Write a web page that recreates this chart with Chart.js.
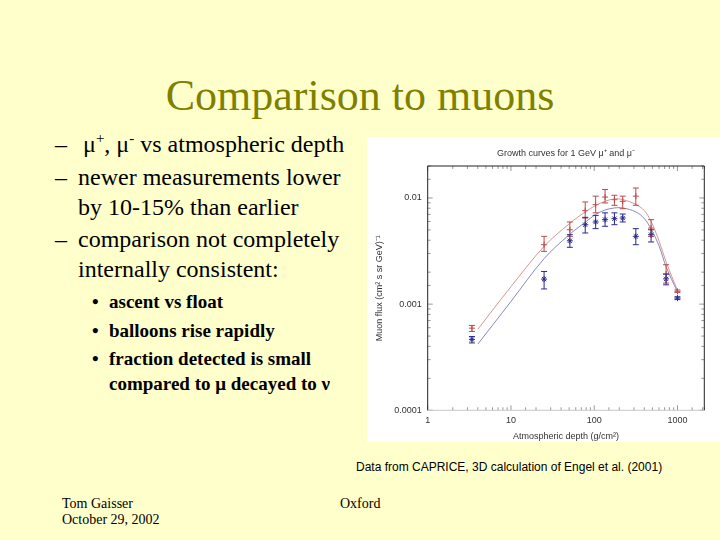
<!DOCTYPE html>
<html>
<head>
<meta charset="utf-8">
<script src="https://cdn.jsdelivr.net/npm/chart.js@4.4.0/dist/chart.umd.min.js"></script>
<style>
  body { margin: 0; background: #ffffcc; }
  #slide { position: relative; width: 720px; height: 540px; overflow: hidden; background: #ffffcc; color: #000; }
  .t { position: absolute; white-space: nowrap; font-family: "Liberation Serif", "Times New Roman", Times, serif; }
  .main { font-size: 24px; line-height: 24px; }
  .sub { font-size: 19px; line-height: 19px; font-weight: bold; }
  .foot { font-size: 14px; line-height: 14px; }
  sup { font-size: 15px; line-height: 0; }
  #chartBox { position: absolute; left: 367px; top: 137px; width: 353px; height: 305px; background: #fff; }
</style>
</head>
<body>
<div id="slide">
  <div class="t" style="left:0;width:720px;text-align:center;top:74px;font-size:44px;line-height:44px;color:#808000;">Comparison to muons</div>

  <div class="t main" style="left:55px;top:132px;">–</div>
  <div class="t main" style="left:83px;top:132px;">μ<sup>+</sup>, μ<sup>-</sup> vs atmospheric depth</div>
  <div class="t main" style="left:55px;top:165px;">–</div>
  <div class="t main" style="left:78px;top:165px;">newer measurements lower</div>
  <div class="t main" style="left:78px;top:195px;">by 10-15% than earlier</div>
  <div class="t main" style="left:55px;top:227px;">–</div>
  <div class="t main" style="left:78px;top:227px;">comparison not completely</div>
  <div class="t main" style="left:78px;top:257px;">internally consistent:</div>

  <div class="t sub" style="left:92px;top:292px;">•</div>
  <div class="t sub" style="left:109px;top:292px;">ascent vs float</div>
  <div class="t sub" style="left:92px;top:321px;">•</div>
  <div class="t sub" style="left:109px;top:321px;">balloons rise rapidly</div>
  <div class="t sub" style="left:92px;top:349px;">•</div>
  <div class="t sub" style="left:109px;top:349px;">fraction detected is small</div>
  <div class="t sub" style="left:109px;top:374px;">compared to μ decayed to ν</div>

  <div id="chartBox"><canvas id="chart"></canvas></div>

  <div class="t" style="left:356px;top:461px;font-family:'Liberation Sans',Arial,sans-serif;font-size:12px;line-height:12px;">Data from CAPRICE, 3D calculation of Engel et al. (2001)</div>

  <div class="t foot" style="left:62px;top:497px;">Tom Gaisser</div>
  <div class="t foot" style="left:62px;top:513px;">October 29, 2002</div>
  <div class="t foot" style="left:340px;top:497px;">Oxford</div>
</div>

<script>
// measured points (CAPRICE), depth in g/cm2
const depthData = [3.4, 25, 51, 78, 104, 135, 175, 220, 316, 482, 730, 1000];
const muPlus = [5.94e-4, 3.63e-3, 5.02e-3, 7.6e-3, 8.65e-3, 1.02e-2, 9.64e-3, 9.3e-3, 1.04e-2, 5.21e-3, 1.92e-3, 1.32e-3];
const muPlusHigh = [6.3e-4, 4.35e-3, 5.94e-3, 9.17e-3, 1.04e-2, 1.2e-2, 1.06e-2, 1.04e-2, 1.24e-2, 6.25e-3, 2.35e-3, 1.36e-3];
const muPlusLow = [5.52e-4, 3.14e-3, 4.35e-3, 6.47e-3, 7.24e-3, 8.97e-3, 8.53e-3, 7.92e-3, 8.53e-3, 4.35e-3, 1.58e-3, 1.29e-3];
const muMinus = [4.65e-4, 1.72e-3, 3.95e-3, 5.6e-3, 5.94e-3, 6.25e-3, 6.38e-3, 6.47e-3, 4.35e-3, 4.51e-3, 1.73e-3, 1.14e-3];
const muMinusHigh = [4.95e-4, 2.03e-3, 4.51e-3, 6.57e-3, 6.85e-3, 7.24e-3, 7.24e-3, 7.06e-3, 5.14e-3, 5.02e-3, 1.92e-3, 1.17e-3];
const muMinusLow = [4.31e-4, 1.39e-3, 3.43e-3, 4.68e-3, 5.14e-3, 5.41e-3, 5.6e-3, 5.94e-3, 3.63e-3, 3.85e-3, 1.52e-3, 1.11e-3];

// calculated growth curves
const curveDepth = [4, 10, 25, 50, 78, 104, 135, 175, 220, 316, 400, 482, 600, 730, 1000];
const curveMuPlus = [5.8e-4, 1.46e-3, 3.5e-3, 5.7e-3, 7.4e-3, 8.5e-3, 9.3e-3, 9.8e-3, 9.65e-3, 8.7e-3, 7.6e-3, 6.0e-3, 3.95e-3, 2.5e-3, 1.34e-3];
const curveMuMinus = [4.2e-4, 1.06e-3, 2.68e-3, 4.5e-3, 5.9e-3, 7.0e-3, 7.7e-3, 8.05e-3, 8.05e-3, 7.4e-3, 6.4e-3, 5.1e-3, 3.55e-3, 2.25e-3, 1.3e-3];

const xTickLabels = ['1', '10', '100', '1000'];
const yTickLabels = ['0.0001', '0.001', '0.01'];

const RED = '#c04848';
const BLUE = '#2a2a8c';

function pts(xs, ys) {
  return xs.map((x, i) => ({ x: x, y: ys[i] }));
}
function isDecade(v) {
  const l = Math.log10(v);
  return Math.abs(l - Math.round(l)) < 1e-6;
}

// error bars drawn through the scales
const errorBars = {
  id: 'errorBars',
  afterDatasetsDraw(chart) {
    const ctx = chart.ctx;
    const ys = chart.scales.y;
    chart.data.datasets.forEach((ds, di) => {
      if (!ds.errLow) return;
      const meta = chart.getDatasetMeta(di);
      ctx.save();
      ctx.strokeStyle = ds.borderColor;
      ctx.lineWidth = 1;
      meta.data.forEach((p, i) => {
        const y1 = ys.getPixelForValue(ds.errLow[i]);
        const y2 = ys.getPixelForValue(ds.errHigh[i]);
        ctx.beginPath();
        ctx.moveTo(p.x, y1); ctx.lineTo(p.x, y2);
        ctx.moveTo(p.x - 3, y1); ctx.lineTo(p.x + 3, y1);
        ctx.moveTo(p.x - 3, y2); ctx.lineTo(p.x + 3, y2);
        ctx.stroke();
      });
      ctx.restore();
    });
  }
};

// gnuplot style frame with inward ticks on all four sides
const frame = {
  id: 'frame',
  beforeDatasetsDraw(chart) {
    const { ctx, chartArea: a, scales } = chart;
    ctx.save();
    ctx.lineWidth = 1;
    ctx.strokeStyle = '#999';
    scales.x.ticks.forEach(t => {
      const px = scales.x.getPixelForValue(t.value);
      if (px < a.left - 0.5 || px > a.right + 0.5) return;
      const len = isDecade(t.value) ? 5 : 3;
      ctx.beginPath();
      ctx.moveTo(px, a.bottom); ctx.lineTo(px, a.bottom - len);
      ctx.moveTo(px, a.top); ctx.lineTo(px, a.top + len);
      ctx.stroke();
    });
    scales.y.ticks.forEach(t => {
      const py = scales.y.getPixelForValue(t.value);
      if (py < a.top - 0.5 || py > a.bottom + 0.5) return;
      const len = isDecade(t.value) ? 5 : 3;
      ctx.beginPath();
      ctx.moveTo(a.left, py); ctx.lineTo(a.left + len, py);
      ctx.moveTo(a.right, py); ctx.lineTo(a.right - len, py);
      ctx.stroke();
    });
    ctx.strokeStyle = '#222';
    ctx.beginPath();
    ctx.moveTo(a.left, a.bottom); ctx.lineTo(a.left, a.top);
    ctx.lineTo(a.right, a.top); ctx.lineTo(a.right, a.bottom);
    ctx.stroke();
    ctx.strokeStyle = '#c8c8c8';
    ctx.beginPath();
    ctx.moveTo(a.left, a.bottom); ctx.lineTo(a.right, a.bottom);
    ctx.stroke();
    ctx.restore();
  }
};

const font = { family: '"Liberation Sans", Arial, sans-serif', size: 9, weight: 'normal' };

new Chart(document.getElementById('chart'), {
  type: 'scatter',
  data: {
    datasets: [
      { label: 'calc mu+', data: pts(curveDepth, curveMuPlus), showLine: true, pointRadius: 0,
        borderColor: '#cc7a7a', borderWidth: 0.8, tension: 0.35 },
      { label: 'calc mu-', data: pts(curveDepth, curveMuMinus), showLine: true, pointRadius: 0,
        borderColor: '#6a6aae', borderWidth: 0.8, tension: 0.35 },
      { label: 'mu+', data: pts(depthData, muPlus), pointStyle: 'cross', pointRadius: 3,
        borderColor: RED, backgroundColor: RED, borderWidth: 1,
        errLow: muPlusLow, errHigh: muPlusHigh },
      { label: 'mu-', data: pts(depthData, muMinus), pointStyle: 'star', pointRadius: 3,
        borderColor: BLUE, backgroundColor: BLUE, borderWidth: 1,
        errLow: muMinusLow, errHigh: muMinusHigh }
    ]
  },
  options: {
    responsive: true,
    maintainAspectRatio: false,
    animation: false,
    layout: { padding: { top: 0, right: 15.7, bottom: 0, left: 0 } },
    plugins: {
      legend: { display: false },
      tooltip: { enabled: false },
      title: {
        display: true,
        text: 'Growth curves for 1 GeV μ⁺ and μ⁻',
        fullSize: false,
        color: '#333',
        font: font,
        padding: { top: 11, bottom: 7.2 }
      }
    },
    scales: {
      x: {
        type: 'logarithmic',
        min: 1,
        max: 2100,
        grid: { display: false, drawTicks: false },
        border: { display: false },
        ticks: {
          autoSkip: false,
          maxRotation: 0,
          padding: 5,
          color: '#333',
          font: font,
          callback: v => (isDecade(v) && xTickLabels.includes(String(Math.round(v)))) ? String(Math.round(v)) : ''
        },
        title: { display: true, text: 'Atmospheric depth (g/cm²)', color: '#333', font: font, padding: { top: 0, bottom: 0 } },
        afterFit: s => { s.height = 31.7; }
      },
      y: {
        type: 'logarithmic',
        min: 0.0001,
        max: 0.02,
        grid: { display: false, drawTicks: false },
        border: { display: false },
        ticks: {
          autoSkip: false,
          padding: 6,
          color: '#333',
          font: font,
          callback: v => {
            if (!isDecade(v)) return '';
            const s = yTickLabels.find(l => Math.abs(parseFloat(l) - v) < v * 1e-6);
            return s || '';
          }
        },
        title: { display: true, text: 'Muon flux (cm² s sr GeV)⁻¹', color: '#333', font: font, padding: { top: 7.6, bottom: 0 } },
        afterFit: s => { s.width = 60.7; }
      }
    }
  },
  plugins: [frame, errorBars]
});
</script>
</body>
</html>
